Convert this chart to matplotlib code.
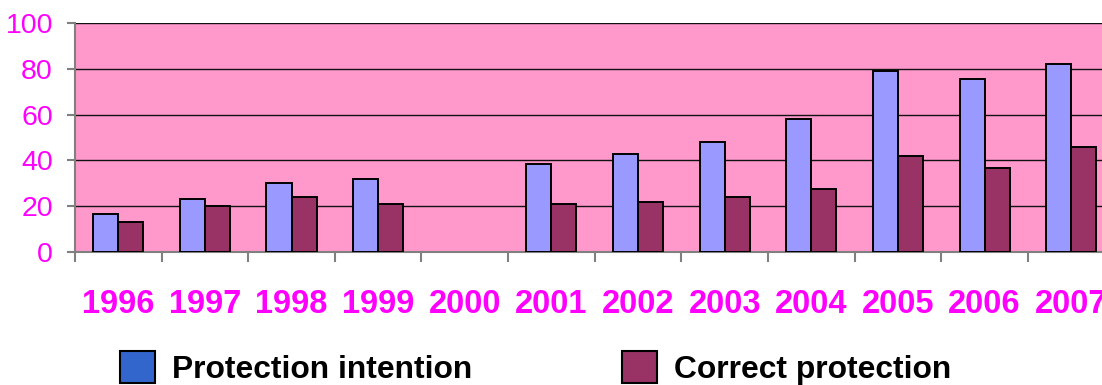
import matplotlib.pyplot as plt
import matplotlib.patches as mpatches
import numpy as np

years = ["1996", "1997", "1998", "1999", "2000", "2001", "2002",
         "2003", "2004", "2005", "2006", "2007"]
intention = [16.5, 23, 30, 32, np.nan, 38.5, 43, 48, 58, 79, 75.5, 82]
correct = [13, 20, 24, 21, np.nan, 21, 22, 24, 27.5, 42, 36.5, 46]

blue = "#9999FF"
maroon = "#993366"
pink = "#FF99CC"
magenta = "#FF00FF"

fig = plt.figure(figsize=(11.02, 3.85), dpi=100)
ax = fig.add_axes([0.068, 0.3455, 0.9434, 0.5948])
ax.set_facecolor(pink)

x = np.arange(len(years))
w = 0.289
ax.bar(x - w / 2, intention, w, color=blue, edgecolor="black", linewidth=1.4, zorder=3)
ax.bar(x + w / 2, correct, w, color=maroon, edgecolor="black", linewidth=1.4, zorder=3)

ax.set_xlim(-0.5, len(years) - 0.5)
ax.set_ylim(0, 100)
ax.set_yticks(range(0, 101, 20))
ax.yaxis.grid(True, color="#111111", linewidth=1, zorder=1)

# category boundaries get the tick marks, the year labels sit in between
ax.set_xticks(np.arange(-0.5, len(years), 1.0))
ax.set_xticklabels([])
ax.set_xticks(x, minor=True)
ax.set_xticklabels(years, minor=True)
ax.tick_params(axis="x", which="major", length=7.2, width=1.5, color="#808080", direction="out")
ax.tick_params(axis="x", which="minor", length=0, pad=27, labelsize=23.5, labelcolor=magenta)
for lab in ax.get_xticklabels(minor=True):
    lab.set_fontweight("bold")
    lab.set_family("Liberation Sans")
ax.tick_params(axis="y", length=5.8, width=1.5, color="#808080", pad=10,
               labelsize=20.5, labelcolor=magenta)
for lab in ax.get_yticklabels():
    lab.set_family("Liberation Sans")

for side in ["left", "bottom"]:
    ax.spines[side].set_color("#808080")
    ax.spines[side].set_linewidth(1.5)
ax.spines["top"].set_visible(False)
ax.spines["right"].set_visible(False)

handles = [mpatches.Patch(facecolor="#3366CC", edgecolor="black", linewidth=1.5,
                          label="Protection intention"),
           mpatches.Patch(facecolor=maroon, edgecolor="black", linewidth=1.5,
                          label="Correct protection")]
fig.legend(handles=handles, ncol=2, frameon=False, loc="center left",
           bbox_to_anchor=(0.109, 0.045),
           prop={"family": "Liberation Sans", "weight": "bold", "size": 22.9},
           handlelength=1.1, handleheight=1.16, handletextpad=0.53,
           columnspacing=4.7, borderpad=0, borderaxespad=0)

fig.savefig("out.png", dpi=100)
